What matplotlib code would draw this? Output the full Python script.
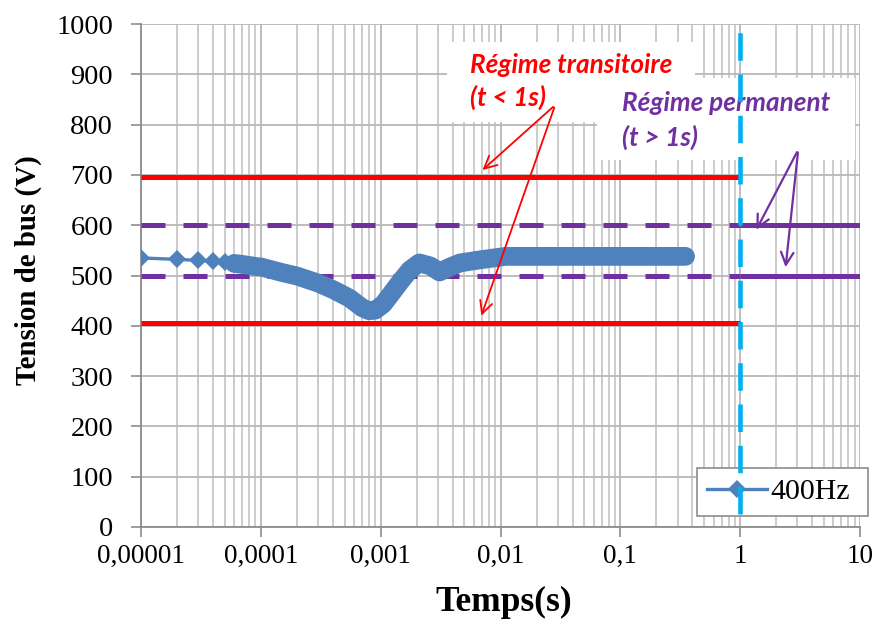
import matplotlib
matplotlib.use("Agg")
import matplotlib.pyplot as plt
from matplotlib.ticker import FixedLocator, FixedFormatter, LogLocator, NullFormatter
from matplotlib.patches import Rectangle
from matplotlib.lines import Line2D

# ---------------- data ----------------
time_s = [1e-5, 2e-5, 3e-5, 4e-5, 5e-5, 6e-5, 7e-5, 8e-5, 9e-5, 1e-4,
          1.5e-4, 2e-4, 3e-4, 4e-4, 5.5e-4, 7e-4, 8e-4, 9e-4, 1.05e-3, 1.2e-3,
          1.45e-3, 1.75e-3, 2.1e-3, 2.6e-3, 3.1e-3, 3.8e-3, 4.6e-3, 6.7e-3,
          1.1e-2, 2.5e-2, 7e-2, 0.15, 0.3, 0.35]
voltage_v = [535, 532, 530, 528, 526, 524, 522, 520, 518, 517,
             506, 499, 485, 472, 455, 436, 430, 431, 443, 461,
             487, 511, 525, 519, 507, 517, 525, 531,
             538, 538, 538, 538, 538, 538]
series_name = "400Hz"

transient_limits = [405, 695]      # red, t < 1 s
permanent_limits = [500, 600]      # purple, t > 1 s
boundary_t = 1.0
x_range = [1e-5, 10]
y_range = [0, 1000]

xtick_values = [1e-5, 1e-4, 1e-3, 1e-2, 1e-1, 1, 10]
xtick_labels = ["0,00001", "0,0001", "0,001", "0,01", "0,1", "1", "10"]
ytick_values = [0, 100, 200, 300, 400, 500, 600, 700, 800, 900, 1000]

# ---------------- styling ----------------
SERIF = ["Liberation Serif", "DejaVu Serif"]
ANN = ["Lato", "Liberation Sans", "DejaVu Sans"]
BLUE = "#4F81BD"
RED = "#FF0000"
PURPLE = "#7030A0"
CYAN = "#00B0F0"
GRID = "#C4C4C4"

fig = plt.figure(figsize=(8.79, 6.25), dpi=100)
ax = fig.add_axes([0.1604, 0.1568, 0.818, 0.8048])
ax.set_xscale("log")
ax.set_xlim(*x_range)
ax.set_ylim(*y_range)

ax.xaxis.set_major_locator(FixedLocator(xtick_values))
ax.xaxis.set_major_formatter(FixedFormatter(xtick_labels))
ax.xaxis.set_minor_locator(LogLocator(base=10, subs=range(2, 10), numticks=20))
ax.xaxis.set_minor_formatter(NullFormatter())
ax.set_yticks(ytick_values)

ax.grid(True, which="major", axis="both", color="#B8B8B8", lw=1.3, zorder=0)
ax.grid(True, which="minor", axis="x", color=GRID, lw=1.2, zorder=0)
ax.set_axisbelow(True)

for s in ["top", "right"]:
    ax.spines[s].set_visible(False)
for s in ["left", "bottom"]:
    ax.spines[s].set_color("#8C8C8C")
    ax.spines[s].set_linewidth(1.3)

ax.tick_params(axis="both", which="major", direction="out", length=7, width=1.2,
               color="#8C8C8C")
ax.tick_params(axis="y", pad=13, labelsize=20.5)
ax.tick_params(axis="x", pad=5, labelsize=19.5)
ax.tick_params(axis="x", which="minor", length=0)
for lab in ax.get_xticklabels() + ax.get_yticklabels():
    lab.set_fontfamily(SERIF)

ax.set_xlabel("Temps(s)", fontsize=25.5, fontweight="bold", fontfamily=SERIF)
ax.set_ylabel("Tension de bus (V)", fontsize=20.8, fontweight="bold", fontfamily=SERIF)
ax.xaxis.set_label_coords(0.504, -0.151)
ax.xaxis.label.set_va("center")
ax.yaxis.set_label_coords(-0.156, 0.51)
ax.yaxis.label.set_va("center")

# limit lines
for v in transient_limits:
    ax.plot([x_range[0], boundary_t], [v, v], color=RED, lw=3.6,
            solid_capstyle="butt", zorder=3)
for v in permanent_limits:
    ax.plot([x_range[0], boundary_t], [v, v], color=PURPLE, lw=3.6,
            linestyle=(0, (4.8, 3.6)), zorder=3)
    ax.plot([boundary_t, x_range[1]], [v, v], color=PURPLE, lw=3.6,
            solid_capstyle="butt", zorder=3)

# data series
dense = [i for i, t in enumerate(time_s) if t >= 6e-5]
ax.plot([time_s[i] for i in dense], [voltage_v[i] for i in dense], color=BLUE,
        lw=13.5, solid_capstyle="round", solid_joinstyle="round", zorder=4)
ax.plot(time_s, voltage_v, color=BLUE, lw=2.4, marker="D", ms=9,
        markeredgewidth=0, zorder=4)

# legend
handle = Line2D([], [], color=BLUE, lw=2.4, marker="D", ms=9, markeredgewidth=0)
leg = ax.legend([handle], [series_name], loc="lower left",
                bbox_to_anchor=(0.773, 0.022, 0.238, 0.125), mode="expand",
                prop={"family": SERIF, "size": 21.5}, fancybox=False,
                framealpha=1, edgecolor="#8C8C8C", handlelength=2.0,
                handletextpad=0.1, borderpad=0.35, borderaxespad=0)
leg.get_frame().set_linewidth(1.2)
leg.set_zorder(5)

# annotation boxes
ax.add_patch(Rectangle((0.4256, 0.805), 0.345, 0.159, transform=ax.transAxes,
                       facecolor="white", edgecolor="none", zorder=5.2))
ax.add_patch(Rectangle((0.634, 0.730), 0.359, 0.163, transform=ax.transAxes,
                       facecolor="white", edgecolor="none", zorder=5.2))
txt = dict(transform=ax.transAxes, fontsize=18.8, fontweight="bold",
           fontstyle="italic", family=ANN, va="center", ha="left", zorder=5.5)
ax.text(0.4576, 0.9185, "Régime transitoire", color=RED, **txt)
ax.text(0.4576, 0.855, "(t < 1s)", color=RED, **txt)
ax.text(0.669, 0.843, "Régime permanent", color=PURPLE, **txt)
ax.text(0.669, 0.775, "(t > 1s)", color=PURPLE, **txt)

# boundary at t = 1 s
ax.plot([boundary_t, boundary_t], [25, 1008], color=CYAN, lw=3.3,
        linestyle=(0, (6, 3)), clip_on=False, zorder=6)

# arrows
arrow_red = dict(arrowstyle="->,head_length=0.9,head_width=0.45", color=RED, lw=1.3)
ax.annotate("", xy=(6.8e-3, 706), xytext=(0.0286, 839), arrowprops=arrow_red, zorder=7)
ax.annotate("", xy=(6.8e-3, 415), xytext=(0.0286, 839), arrowprops=arrow_red, zorder=7)
arrow_pur = dict(arrowstyle="->,head_length=0.9,head_width=0.45", color=PURPLE, lw=1.6)
ax.annotate("", xy=(1.33, 586), xytext=(3.05, 750), arrowprops=arrow_pur, zorder=7)
ax.annotate("", xy=(2.38, 511), xytext=(3.05, 750), arrowprops=arrow_pur, zorder=7)

fig.savefig("out.png", dpi=100)
